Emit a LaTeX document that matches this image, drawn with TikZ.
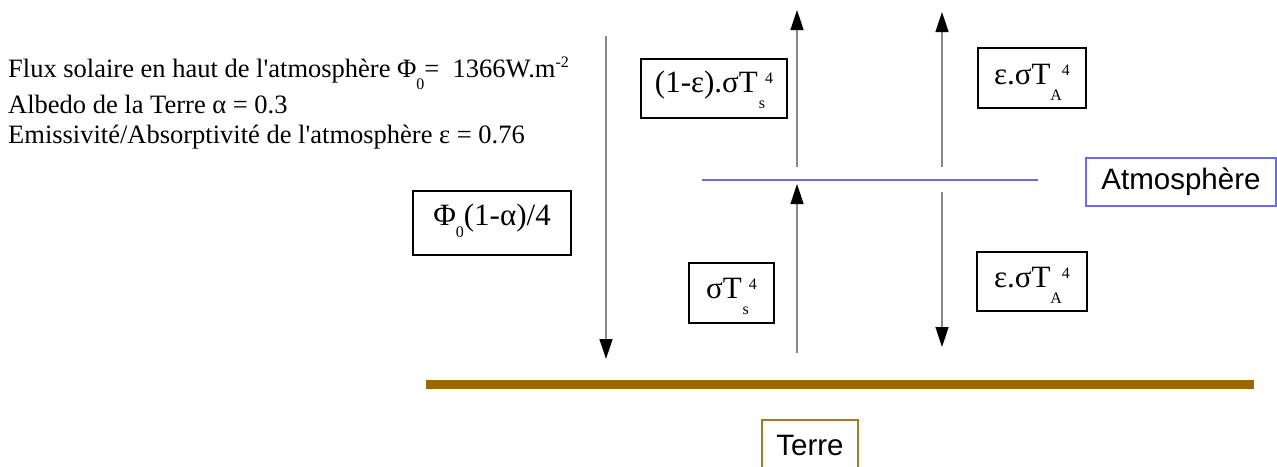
\documentclass[tikz,border=0pt]{standalone}
\usepackage{fontspec}
\setmainfont{Liberation Serif}[Ligatures=TeXOff]
\newfontfamily\arialfont{Liberation Sans}
\usetikzlibrary{arrows.meta}
\definecolor{arrowgray}{HTML}{888888}
\definecolor{atmblue}{HTML}{6B6BF2}
\definecolor{earthbrown}{HTML}{9C6600}
\definecolor{terrebox}{HTML}{A87A28}
% #1 sub, #2 sup, #3 kern before sub
\newcommand\mysubsup[3]{\kern#3\raisebox{-16pt}{\fontsize{16}{16}\selectfont #1}\raisebox{9pt}{\fontsize{16}{16}\selectfont #2}}
\newcommand\mysub[2]{\raisebox{#2}{\fontsize{16}{16}\selectfont #1}}
\tikzset{
  flux/.style={draw=arrowgray, line width=1.3pt, -{Triangle[length=20pt,width=13pt,color=black]}},
  formbox/.style={draw=black, line width=2pt, inner sep=0pt, font=\fontsize{31}{31}\selectfont},
  labelbox/.style={line width=2pt, inner sep=0pt, font=\arialfont\fontsize{29.5}{29.5}\selectfont},
  infotext/.style={anchor=base west, inner sep=0pt, font=\fontsize{26.5}{26.5}\selectfont}
}
\begin{document}
\begin{tikzpicture}[x=1pt,y=-1pt]
\useasboundingbox (0,0) rectangle (1277,466);
% info text
\node[infotext] (t1) at (8,77) {Flux solaire en haut de l'atmosphère Φ\mysub{0}{-12pt}=\ \ 1366W.m\raisebox{10pt}{\fontsize{16}{16}\selectfont -2}};
\node[infotext] (t2) at (8,113) {Albedo de la Terre α = 0.3};
\node[infotext] (t3) at (8,143) {Emissivité/Absorptivité de l'atmosphère ε = 0.76};
% boxes
\node[formbox, minimum width=146pt, minimum height=59pt, text height=20pt, text depth=13pt] (b1) at (714,88.5) {(1-ε).σT\mysubsup{s}{4}{1pt}};
\node[formbox, minimum width=108pt, minimum height=60pt, text height=20pt, text depth=8pt] (b2) at (1032,78) {ε.σT\mysubsup{A}{4}{0pt}};
\node[formbox, minimum width=158pt, minimum height=64pt, text height=20pt, text depth=16pt] (b3) at (492,223) {Φ\mysub{0}{-12pt}(1-α)/4};
\node[formbox, minimum width=85pt, minimum height=60pt, text height=20pt, text depth=10pt] (b4) at (731.5,293) {σT\mysubsup{s}{4}{1pt}};
\node[formbox, minimum width=110pt, minimum height=59pt, text height=20pt, text depth=9pt] (b5) at (1032,281.5) {ε.σT\mysubsup{A}{4}{0pt}};
\node[labelbox, draw=atmblue, minimum width=190pt, minimum height=48pt] (atm) at (1181,182) {Atmosphère};
\node[labelbox, draw=terrebox, minimum width=96pt, minimum height=56pt] (terre) at (810,448) {\raisebox{6pt}{Terre}};
% coordinates
\coordinate (l0) at (606,36);
\coordinate (l1) at (606,359);
\coordinate (a0) at (797,167);
\coordinate (a1) at (797,10);
\coordinate (a2) at (797,353);
\coordinate (a3) at (797,184);
\coordinate (c0) at (942,167);
\coordinate (c1) at (942,12);
\coordinate (c2) at (942,192);
\coordinate (c3) at (942,347);
\coordinate (atmL) at (702,180);
\coordinate (atmR) at (1038,180);
\coordinate (gL) at (426,384.5);
\coordinate (gR) at (1254,384.5);
% lines
\draw[atmblue, line width=2pt] (atmL) -- (atmR);
\draw[earthbrown, line width=9pt] (gL) -- (gR);
\draw[flux] (l0) -- (l1);
\draw[flux] (a0) -- (a1);
\draw[flux] (a2) -- (a3);
\draw[flux] (c0) -- (c1);
\draw[flux] (c2) -- (c3);
\end{tikzpicture}
\end{document}
